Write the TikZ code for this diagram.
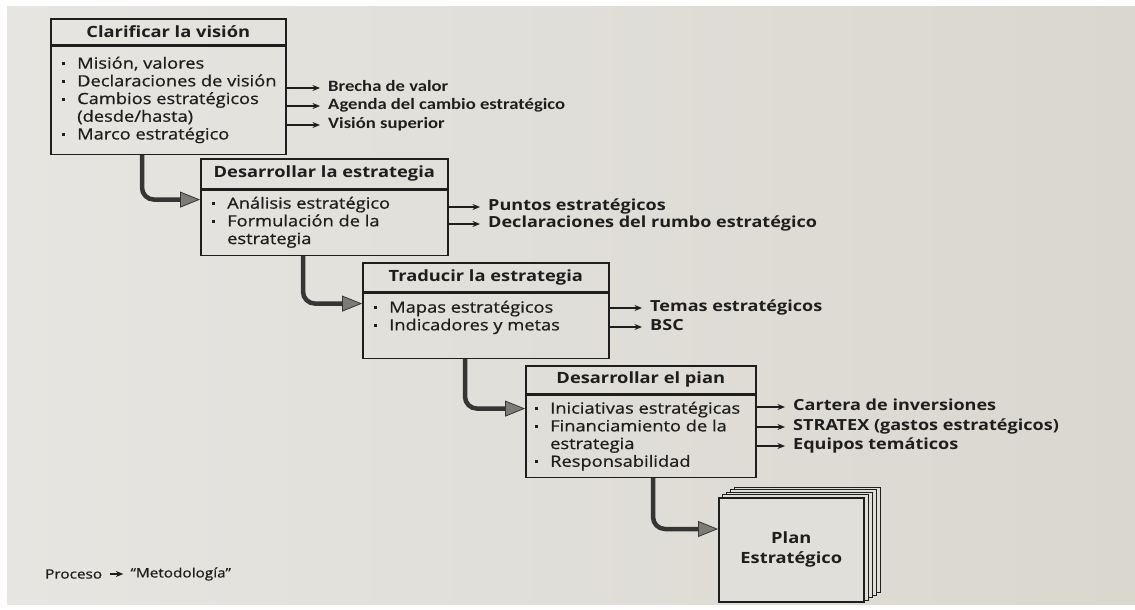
\documentclass[tikz,border=0pt]{standalone}
\usepackage{fontspec}
\setmainfont{Open Sans}[FakeStretch=1.18]
\newfontfamily\itemfont{Open Sans}[FakeStretch=1.18,FakeBold=0.7]
\newfontfamily\labfont{Carlito}[FakeStretch=1.18]
\usetikzlibrary{arrows.meta,calc}
\definecolor{bgL}{HTML}{E6E5E1}
\definecolor{bgR}{HTML}{DAD7CF}
\definecolor{ink}{HTML}{1E1E1E}
\definecolor{flowc}{HTML}{353535}
\definecolor{headc}{HTML}{7C7B78}
\pgfdeclarelayer{back}
\pgfsetlayers{back,main}
\newcommand{\bul}{\makebox[16pt][l]{\hspace*{1pt}\raisebox{0.42ex}{\rule{3pt}{3pt}}}}
\newcommand{\ind}{\hspace*{16pt}}
\begin{document}
\begin{tikzpicture}[x=1pt,y=-1pt,
  ttl/.style={draw=ink, line width=1.6pt, anchor=north west, font=\fontsize{15.5}{17}\selectfont\bfseries, text=ink, inner sep=0pt},
  bod/.style={draw=ink, line width=1.6pt, anchor=north west, inner sep=0pt},
  items/.style={anchor=north west, align=left, inner sep=0pt, font=\fontsize{15.5}{17.7}\itemfont, text=ink},
  lab/.style={anchor=west, inner sep=0pt, text height=11pt, text depth=3.5pt, font=\fontsize{15.3}{17}\selectfont\bfseries, text=ink},
  clab/.style={lab, font=\fontsize{15.8}{17}\labfont\bfseries},
  outarr/.style={draw=ink, line width=1.4pt, -{Stealth[length=7.5pt,width=6pt]}},
  flow/.style={draw=flowc, line width=4.5pt, rounded corners=12pt, -{Triangle[length=20pt,width=16pt,fill=headc,color=flowc,line width=0.8pt]}},
  page/.style={draw=ink, line width=0.9pt, fill=bgR!55!bgL},
]
\useasboundingbox (0,0) rectangle (1135,610);

% Box 1
\node[ttl, minimum width=235, minimum height=26] (t1) at (50,18) {Clarificar la visión};
\node[bod, minimum width=235, minimum height=108] (b1) at (t1.south west) {};
\node[items] (i1) at ($(b1.north west)+(11,11)$) {\bul Misión, valores\\ \bul Declaraciones de visión\\ \bul Cambios estratégicos\\ \ind(desde/hasta)\\ \bul Marco estratégico};
\node[clab] (l11) at (328,88) {Brecha de valor};
\node[clab] (l12) at (328,106) {Agenda del cambio estratégico};
\node[clab] (l13) at (328,125) {Visión superior};

% Box 2
\node[ttl, minimum width=247, minimum height=30] (t2) at (200,158) {Desarrollar la estrategia};
\node[bod, minimum width=247, minimum height=65] (b2) at (t2.south west) {};
\node[items] (i2) at ($(b2.north west)+(11,7)$) {\bul Análisis estratégico\\ \bul Formulación de la\\ \ind estrategia};
\node[lab] (l21) at (488,207) {Puntos estratégicos};
\node[lab] (l22) at (488,224) {Declaraciones del rumbo estratégico};

% Box 3
\node[ttl, minimum width=246, minimum height=29] (t3) at (362,262) {Traducir la estrategia};
\node[bod, minimum width=246, minimum height=65] (b3) at (t3.south west) {};
\node[items] (i3) at ($(b3.north west)+(11,8)$) {\bul Mapas estratégicos\\ \bul Indicadores y metas};
\node[lab] (l31) at (650,308) {Temas estratégicos};
\node[lab] (l32) at (650,327) {BSC};

% Box 4
\node[ttl, minimum width=230, minimum height=28] (t4) at (525,365) {Desarrollar el pian};
\node[bod, minimum width=230, minimum height=82] (b4) at (t4.south west) {};
\node[items] (i4) at ($(b4.north west)+(9,7)$) {\bul Iniciativas estratégicas\\ \bul Financiamiento de la\\ \ind estrategia\\ \bul Responsabilidad};
\node[lab] (l41) at (793,407) {Cartera de inversiones};
\node[lab] (l42) at (793,427) {STRATEX (gastos estratégicos)};
\node[lab] (l43) at (793,446) {Equipos temáticos};

% Plan
\node[draw=ink, line width=1.6pt, fill=bgR!45!bgL, minimum width=145, minimum height=104, anchor=north west, align=center, inner sep=0pt, font=\fontsize{15.5}{20}\selectfont\bfseries, text=ink] (plan) at (718,497) {Plan\\Estratégico};

% Legend
\node[anchor=west, inner sep=0pt, font=\fontsize{13}{15}\itemfont, text=ink] (p1) at (45,574) {Proceso};
\node[anchor=west, inner sep=0pt, font=\fontsize{13}{15}\itemfont, text=ink] (p2) at ($(p1.east)+(28,0)$) {“Metodología”};
\draw[outarr] ($(p1.east)+(8,0)$) -- ($(p2.west)+(-7,0)$);

% output arrows
\foreach \b/\l in {b1/l11,b1/l12,b1/l13,b2/l21,b2/l22,b3/l31,b3/l32,b4/l41,b4/l42,b4/l43}
  \draw[outarr] (\b.east |- \l.west) -- ($(\l.west)+(-8,0)$);

% flow arrows
\draw[flow] ($(b1.south west)+(92,0)$) |- ($(b2.north west)+(0,10)$);
\draw[flow] ($(b2.south west)+(103,0)$) |- ($(b3.north west)+(0,11)$);
\draw[flow] ($(b3.south west)+(103,0)$) |- ($(b4.north west)+(0,14)$);
\draw[flow] ($(b4.south west)+(128,0)$) |- ($(plan.north west)+(0,32)$);

\begin{pgfonlayer}{back}
  \fill[white] (0,0) rectangle (1135,610);
  \shade[left color=bgL, right color=bgR] (7,7) rectangle (1135,604);
  \foreach \i in {4,3,2,1}
    \draw[page] ($(plan.south west)+(4*\i,-2.5*\i)$) rectangle ($(plan.north east)+(4*\i,-2.5*\i)$);
\end{pgfonlayer}
\end{tikzpicture}
\end{document}
